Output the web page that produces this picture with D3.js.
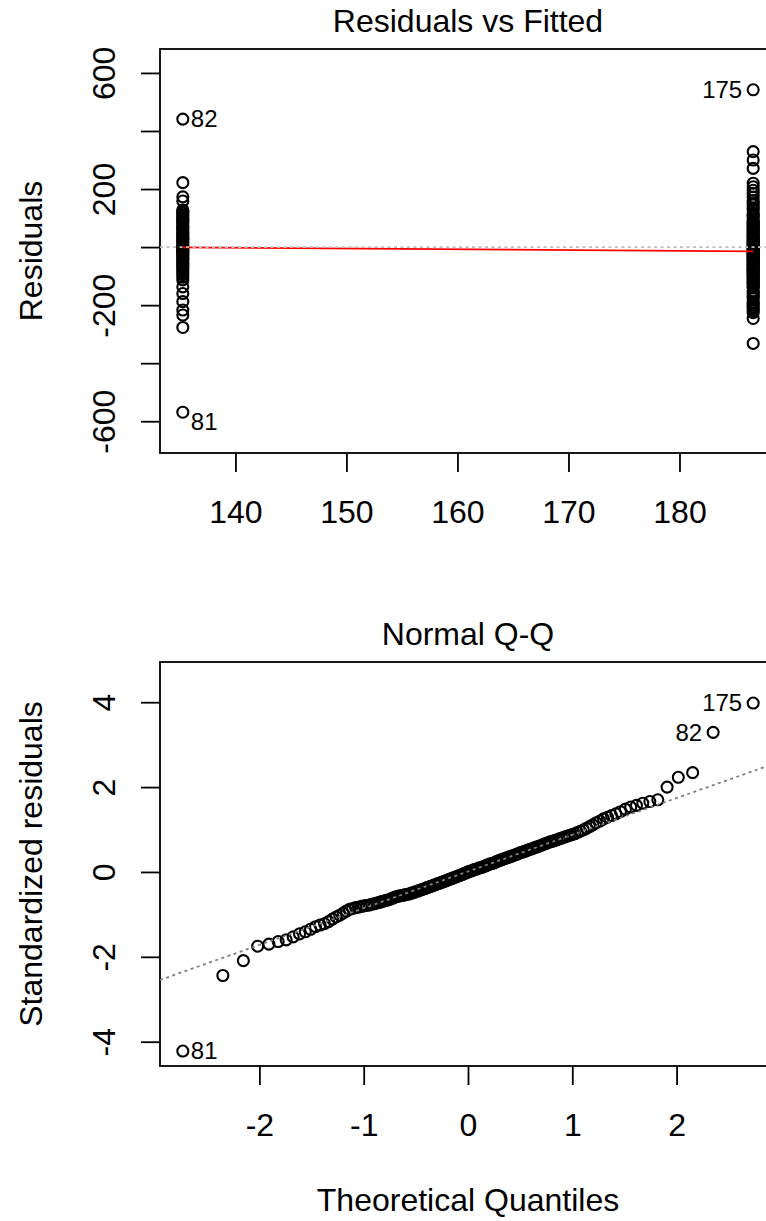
<!DOCTYPE html>
<html>
<head>
<meta charset="utf-8">
<script src="https://cdn.jsdelivr.net/npm/d3@7"></script>
<style>
  body { margin: 0; background: #fff; }
  svg text { font-family: "Liberation Sans", Arial, sans-serif; fill: #000; }
</style>
</head>
<body>
<svg id="chart" width="766" height="1221"></svg>
<script>
// ---- data ----
// the two fitted values (model has a two-level predictor)
const fittedLevels = [135.26, 186.64];
// residuals at the low fitted value
const residLow = [441, 222, 173, 159, 128, 123, 117, 111, 106, 101, 97, 91, 86, 80, 73, 68, 64, 57, 52,
  46, 41, 33, 29, 24, 18, 13, 6, 1, -3, -8, -12, -17, -21, -27, -33, -39, -45, -51, -57, -63, -69, -75,
  -81, -88, -95, -104, -113, -137, -160, -188, -217, -234, -277, -569];
// residuals at the high fitted value
const residHigh = [542, 329, 300, 271, 220, 208, 196, 185, 172, 160, 151,
  145, 134, 129, 118, 112, 108, 103, 95, 90, 87, 83, 79, 75, 71, 68,
  64, 61, 57, 54, 50, 47, 40, 37, 34, 31, 28, 25, 22, 19, 16, 13, 11, 8, 5, 2, 0,
  -3, -6, -8, -11, -14, -17, -19, -22, -25, -28, -31, -33, -36, -39, -42, -45, -48, -51,
  -54, -57, -60, -63, -66, -70, -73, -76, -79, -83, -86, -90, -93, -97, -101, -104, -108,
  -112, -116, -120, -124, -128, -132, -137, -141, -151, -156, -161, -167, -172, -177, -190, -195,
  -201, -207, -213, -219, -226, -246, -332];
// lowess smoother value at each fitted level
const smoothResid = [-1, -15];
// ids of the three largest |residual|, largest first
const topIds = ["81", "175", "82"];

// sorted standardized residuals (Normal Q-Q)
const stdResid = [-4.22, -2.44, -2.09, -1.75, -1.70, -1.64, -1.60, -1.53, -1.46, -1.41,
  -1.35, -1.29, -1.25, -1.22, -1.17, -1.11, -1.06, -1.02, -0.97, -0.92,
  -0.88, -0.86, -0.84, -0.83, -0.81, -0.80, -0.79, -0.78, -0.76, -0.75,
  -0.73, -0.72, -0.70, -0.69, -0.67, -0.66, -0.64, -0.62, -0.60, -0.58,
  -0.57, -0.56, -0.55, -0.54, -0.53, -0.52, -0.51, -0.49, -0.48, -0.46,
  -0.45, -0.43, -0.42, -0.40, -0.39, -0.37, -0.36, -0.34, -0.33, -0.31,
  -0.30, -0.28, -0.27, -0.25, -0.24, -0.22, -0.21, -0.19, -0.18, -0.16,
  -0.15, -0.13, -0.12, -0.10, -0.09, -0.07, -0.06, -0.04, -0.03, -0.01,
  0.01, 0.02, 0.03, 0.05, 0.06, 0.07, 0.09, 0.10, 0.11, 0.13,
  0.14, 0.16, 0.17, 0.19, 0.20, 0.21, 0.23, 0.25, 0.26, 0.28,
  0.29, 0.31, 0.32, 0.34, 0.35, 0.37, 0.38, 0.40, 0.41, 0.43,
  0.45, 0.46, 0.48, 0.49, 0.51, 0.53, 0.54, 0.56, 0.58, 0.59,
  0.61, 0.63, 0.65, 0.67, 0.69, 0.71, 0.72, 0.74, 0.76, 0.78,
  0.80, 0.82, 0.84, 0.86, 0.88, 0.90, 0.93, 0.96, 0.99, 1.03,
  1.07, 1.11, 1.16, 1.20, 1.25, 1.29, 1.33, 1.37, 1.42, 1.48,
  1.53, 1.57, 1.62, 1.66, 1.70, 2.00, 2.23, 2.34, 3.29, 3.98];
const qqIds = ["81", "175", "82"];

// ticks
const fitTicks = [140, 150, 160, 170, 180];
const residTicks = [-600, -400, -200, 0, 200, 400, 600];
const residTickLabels = [-600, -200, 200, 600];  // R drops the ones that would overlap
const quantTicks = [-2, -1, 0, 1, 2];
const stdTicks = [-4, -2, 0, 2, 4];

// ---- layout ----
const left = 160, right = 776;
const top1 = 49, bot1 = 453;
const top2 = 662, bot2 = 1066;
const tickLen = 19;
const fontSize = 32, idSize = 24;
const ptR = 5.5, ptW = 2.1;

const svg = d3.select('#chart');

// inverse normal cdf (Acklam), used for the theoretical quantiles like qnorm(ppoints(n))
function qnorm(p) {
    const a = [-39.69683028665376, 220.9460984245205, -275.9285104469687, 138.3577518672690, -30.66479806614716, 2.506628277459239];
    const b = [-54.47609879822406, 161.5858368580409, -155.6989798598866, 66.80131188771972, -13.28068155288572];
    const c = [-0.007784894002430293, -0.3223964580411365, -2.400758277161838, -2.549732539343734, 4.374664141464968, 2.938163982698783];
    const d = [0.007784695709041462, 0.3224671290700398, 2.445134137142996, 3.754408661907416];
    const pl = 0.02425;
    let q, r;
    if (p < pl) {
        q = Math.sqrt(-2 * Math.log(p));
        return (((((c[0]*q+c[1])*q+c[2])*q+c[3])*q+c[4])*q+c[5]) / ((((d[0]*q+d[1])*q+d[2])*q+d[3])*q+1);
    }
    if (p > 1 - pl) {
        q = Math.sqrt(-2 * Math.log(1 - p));
        return -(((((c[0]*q+c[1])*q+c[2])*q+c[3])*q+c[4])*q+c[5]) / ((((d[0]*q+d[1])*q+d[2])*q+d[3])*q+1);
    }
    q = p - 0.5; r = q * q;
    return (((((a[0]*r+a[1])*r+a[2])*r+a[3])*r+a[4])*r+a[5])*q / (((((b[0]*r+b[1])*r+b[2])*r+b[3])*r+b[4])*r+1);
}

// R style axis range: data range padded 4% each side
let padRange = (lo, hi) => { let d = hi - lo; return [lo - 0.04 * d, hi + 0.04 * d]; };

// draws box, axes, title and labels of one panel
function panelFrame(x, y, yTop, yBot, opts) {
    let g = svg.append('g');

    g.append('g')
     .attr('transform', `translate(0,${yBot})`)
     .call(d3.axisBottom(x).tickValues(opts.xTicks).tickSize(tickLen).tickFormat(v => String(v)))
     .call(a => a.select('.domain').remove())
     .call(a => a.selectAll('line').attr('stroke', '#000').attr('stroke-width', 1.8))
     .call(a => a.selectAll('text').attr('y', 70).attr('dy', 0));

    g.append('g')
     .attr('transform', `translate(${left},0)`)
     .call(d3.axisLeft(y).tickValues(opts.yTicks).tickSize(tickLen)
             .tickFormat(v => opts.yLabels.includes(v) ? String(v) : ''))
     .call(a => a.select('.domain').remove())
     .call(a => a.selectAll('line').attr('stroke', '#000').attr('stroke-width', 1.8))
     .call(a => a.selectAll('text').attr('x', 0).attr('dy', 0)
                 .attr('text-anchor', 'middle')
                 .attr('transform', 'translate(-45,0) rotate(-90)'));

    g.selectAll('.tick text')
     .attr('font-size', fontSize)
     .attr('font-family', '"Liberation Sans", Arial, sans-serif')
     .attr('fill', '#000');

    g.append('rect')
     .attr('x', left).attr('y', yTop)
     .attr('width', right - left).attr('height', yBot - yTop)
     .attr('fill', 'none').attr('stroke', '#000').attr('stroke-width', 1.8);

    g.append('text')
     .attr('x', (left + right) / 2).attr('y', yTop - 17)
     .attr('text-anchor', 'middle').attr('font-size', fontSize)
     .text(opts.title);

    if (opts.ylab) {
        g.append('text')
         .attr('transform', `translate(42,${(yTop + yBot) / 2}) rotate(-90)`)
         .attr('text-anchor', 'middle').attr('font-size', fontSize)
         .text(opts.ylab);
    }
    if (opts.xlab) {
        g.append('text')
         .attr('x', (left + right) / 2).attr('y', yBot + 145)
         .attr('text-anchor', 'middle').attr('font-size', fontSize)
         .text(opts.xlab);
    }
}

// clip region for each panel
let defs = svg.append('defs');
[['clip1', top1, bot1], ['clip2', top2, bot2]].forEach(([id, t, b]) => {
    defs.append('clipPath').attr('id', id)
        .append('rect').attr('x', left).attr('y', t).attr('width', right - left).attr('height', b - t);
});

// ---------- Residuals vs Fitted ----------
let topPts = residLow.map(r => ({ x: fittedLevels[0], r: r }))
             .concat(residHigh.map(r => ({ x: fittedLevels[1], r: r })));

let x1 = d3.scaleLinear().domain(padRange(fittedLevels[0], fittedLevels[1])).range([left, right]);
let rExt = d3.extent(topPts, d => d.r);
let rSpan = rExt[1] - rExt[0];
let y1 = d3.scaleLinear()
           .domain(padRange(rExt[0] - 0.08 * rSpan, rExt[1] + 0.08 * rSpan))
           .range([bot1, top1]);

panelFrame(x1, y1, top1, bot1, {
    xTicks: fitTicks, yTicks: residTicks, yLabels: residTickLabels,
    title: 'Residuals vs Fitted', ylab: 'Residuals'
});

let p1 = svg.append('g').attr('clip-path', 'url(#clip1)');
p1.selectAll('circle')
  .data(topPts)
  .enter()
  .append('circle')
  .attr('cx', d => x1(d.x))
  .attr('cy', d => y1(d.r))
  .attr('r', ptR)
  .attr('fill', 'none')
  .attr('stroke', '#000')
  .attr('stroke-width', ptW);

// smoother, then the zero reference line on top (R draws abline last)
p1.append('line')
  .attr('x1', x1(fittedLevels[0])).attr('y1', y1(smoothResid[0]))
  .attr('x2', x1(fittedLevels[1])).attr('y2', y1(smoothResid[1]))
  .attr('stroke', '#ff0000').attr('stroke-width', 1.8);

p1.append('line')
  .attr('x1', left).attr('x2', right)
  .attr('y1', y1(0)).attr('y2', y1(0))
  .attr('stroke', '#bebebe').attr('stroke-width', 1.8)
  .attr('stroke-dasharray', '3,3.5');

// label the three largest |residual|
let xMid1 = d3.mean(x1.domain());
let topLab = topPts.slice().sort((a, b) => Math.abs(b.r) - Math.abs(a.r)).slice(0, 3);
svg.append('g').selectAll('text')
   .data(topLab)
   .enter()
   .append('text')
   .attr('x', d => d.x > xMid1 ? x1(d.x) - 11 : x1(d.x) + 8)
   .attr('y', d => y1(d.r) + (d.r < 0 ? 9 : 0))
   .attr('dy', '0.35em')
   .attr('text-anchor', d => d.x > xMid1 ? 'end' : 'start')
   .attr('font-size', idSize)
   .text((d, i) => topIds[i]);

// ---------- Normal Q-Q ----------
let n = stdResid.length;
let qqPts = stdResid.map((v, i) => ({ q: qnorm((i + 1 - 0.5) / n), s: v }));

let qExt = d3.extent(qqPts, d => d.q);
let x2 = d3.scaleLinear().domain(padRange(qExt[0], qExt[1])).range([left, right]);
let sExt = d3.extent(stdResid);
let y2 = d3.scaleLinear()
           .domain(padRange(sExt[0], sExt[1] + 0.075 * (sExt[1] - sExt[0])))
           .range([bot2, top2]);

panelFrame(x2, y2, top2, bot2, {
    xTicks: quantTicks, yTicks: stdTicks, yLabels: stdTicks,
    title: 'Normal Q-Q', ylab: 'Standardized residuals', xlab: 'Theoretical Quantiles'
});

let p2 = svg.append('g').attr('clip-path', 'url(#clip2)');
p2.selectAll('circle')
  .data(qqPts)
  .enter()
  .append('circle')
  .attr('cx', d => x2(d.q))
  .attr('cy', d => y2(d.s))
  .attr('r', ptR)
  .attr('fill', 'none')
  .attr('stroke', '#000')
  .attr('stroke-width', ptW);

// qqline through the quartiles
let q1 = d3.quantile(stdResid, 0.25), q3 = d3.quantile(stdResid, 0.75);
let slope = (q3 - q1) / (qnorm(0.75) - qnorm(0.25));
let icpt = q1 - slope * qnorm(0.25);
let xd = x2.domain();
p2.append('line')
  .attr('x1', x2(xd[0])).attr('y1', y2(icpt + slope * xd[0]))
  .attr('x2', x2(xd[1])).attr('y2', y2(icpt + slope * xd[1]))
  .attr('stroke', '#7f7f7f').attr('stroke-width', 1.8)
  .attr('stroke-dasharray', '3,3.5');

let qqLab = qqPts.slice().sort((a, b) => Math.abs(b.s) - Math.abs(a.s)).slice(0, 3);
svg.append('g').selectAll('text')
   .data(qqLab)
   .enter()
   .append('text')
   .attr('x', d => d.q > 0 ? x2(d.q) - 11 : x2(d.q) + 8)
   .attr('y', d => y2(d.s))
   .attr('dy', '0.35em')
   .attr('text-anchor', d => d.q > 0 ? 'end' : 'start')
   .attr('font-size', idSize)
   .text((d, i) => qqIds[i]);
</script>
</body>
</html>
